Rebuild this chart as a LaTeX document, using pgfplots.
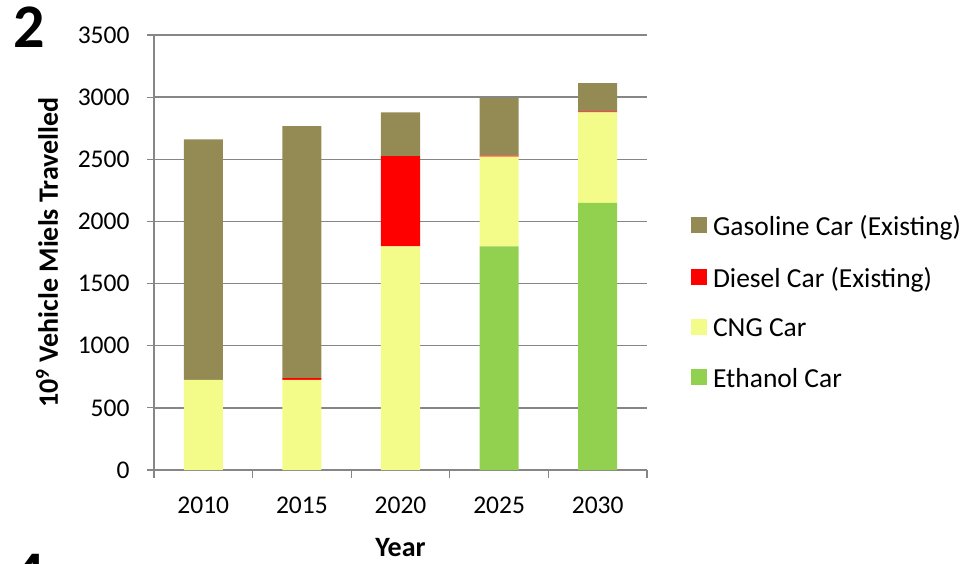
\documentclass[border=0pt]{standalone}
\usepackage{pgfplots}
\pgfplotsset{compat=1.18}
\usepackage{fontspec}
\setmainfont{Carlito}
\definecolor{gasc}{HTML}{948A54}
\definecolor{diec}{HTML}{FF0000}
\definecolor{cngc}{HTML}{F3FC89}
\definecolor{ethc}{HTML}{92D050}
\definecolor{gridc}{HTML}{868686}
\begin{document}
\begin{tikzpicture}[x=1pt,y=1pt]
\path[use as bounding box] (0,0) rectangle (970,563);
\node[anchor=base west,font=\fontsize{62}{70}\selectfont\bfseries,inner sep=0] at (13,515) {2};
\node[anchor=base west,font=\fontsize{62}{70}\selectfont\bfseries,inner sep=0] at (13,-31) {4};
\begin{axis}[
  at={(154pt,93pt)}, anchor=south west,
  scale only axis, width=493pt, height=435pt,
  ybar stacked, bar width=39pt,
  xmin=-0.5, xmax=4.5, ymin=0, ymax=3500,
  xtick={0,1,2,3,4}, xticklabels={2010,2015,2020,2025,2030},
  minor xtick={-0.5,0.5,1.5,2.5,3.5,4.5},
  ytick={0,500,...,3500},
  tick align=outside,
  major tick length=7pt, minor tick length=8pt,
  x tick style={draw=none},
  minor x tick style={draw=gridc, line width=1.2pt},
  y tick style={draw=gridc, line width=1.2pt},
  axis x line*=bottom, axis y line*=left,
  axis line style={draw=gridc, line width=1.5pt, -},
  ymajorgrids, grid style={draw=gridc, line width=1.5pt},
  /pgf/number format/1000 sep={},
  /pgf/number format/assume math mode=true,
  tick label style={font=\fontsize{25.5}{30}\selectfont},
  yticklabel style={xshift=-14pt},
  xticklabel style={yshift=-16pt},
  xlabel={Year}, ylabel={10\textsuperscript{9} Vehicle Miels Travelled},
  label style={font=\fontsize{28}{32}\selectfont\bfseries},
  xlabel style={at={(axis description cs:0.5,-0.179)}, anchor=center},
  ylabel style={at={(axis description cs:-0.217,0.5)}, anchor=center},
  reverse legend,
  legend style={draw=none, fill=none, at={(1.089,0.386)}, anchor=west,
    font=\fontsize{27.5}{32}\selectfont, row sep=30pt, inner sep=0pt,
    nodes={inner xsep=6pt, inner ysep=0pt}},
  legend cell align=left,
  legend image code/.code={\fill[#1] (0pt,-7pt) rectangle (16pt,9pt);},
]
\addplot[fill=ethc, draw=none] coordinates {(0,0) (1,0) (2,0) (3,1800) (4,2150)};
\addlegendentry{Ethanol Car}
\addplot[fill=cngc, draw=none] coordinates {(0,725) (1,725) (2,1800) (3,722) (4,728)};
\addlegendentry{CNG Car}
\addplot[fill=diec, draw=none] coordinates {(0,0) (1,14) (2,726) (3,8) (4,8)};
\addlegendentry{Diesel Car (Existing)}
\addplot[fill=gasc, draw=none] coordinates {(0,1935) (1,2028) (2,351) (3,465) (4,227)};
\addlegendentry{Gasoline Car (Existing)}
\end{axis}
\end{tikzpicture}
\end{document}
